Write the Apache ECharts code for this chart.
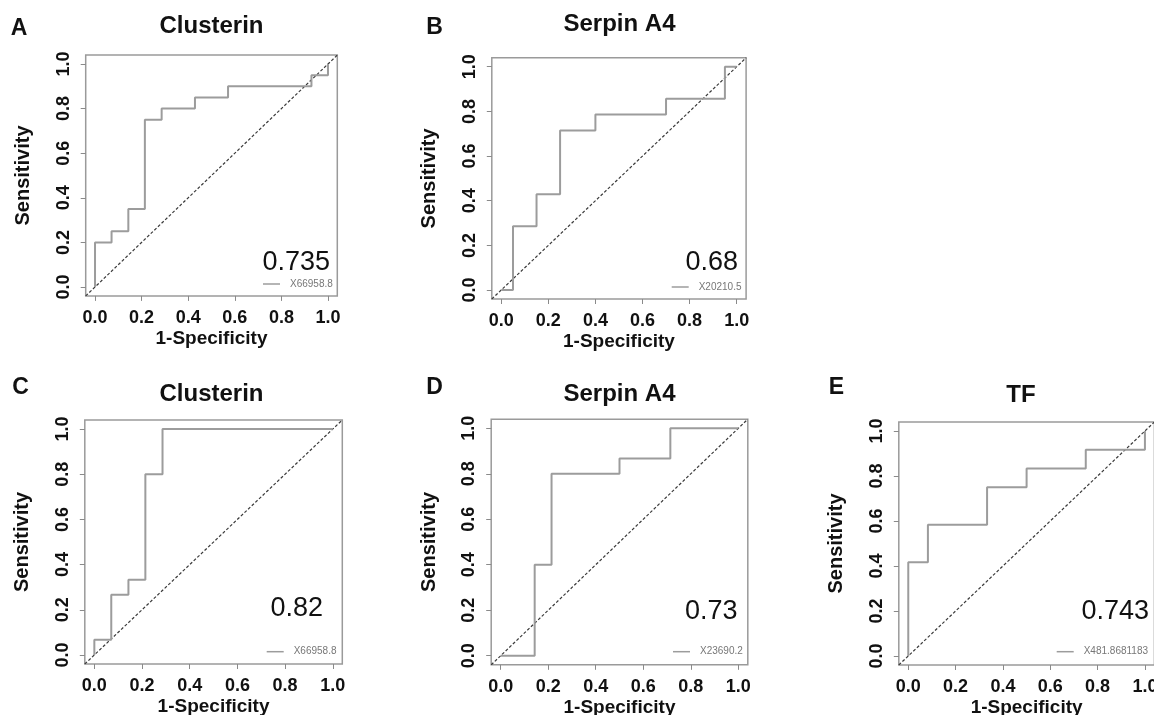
<!DOCTYPE html>
<html>
<head>
<meta charset="utf-8">
<title>ROC curves</title>
<script src="https://cdn.jsdelivr.net/npm/echarts@6/dist/echarts.min.js"></script>
<style>
  html, body { margin: 0; padding: 0; background: #fff; }
  #main { width: 1154px; height: 715px; }
</style>
</head>
<body>
<div id="main"></div>
<script>
// ROC step corners (x = 1-specificity, y = sensitivity)
var fprA = [0, 0, 0.071, 0.071, 0.143, 0.143, 0.214, 0.214, 0.286, 0.286, 0.429, 0.429, 0.571, 0.571, 0.929, 0.929, 1, 1];
var tprA = [0, 0.2, 0.2, 0.25, 0.25, 0.35, 0.35, 0.75, 0.75, 0.8, 0.8, 0.85, 0.85, 0.9, 0.9, 0.95, 0.95, 1];

var fprB = [0, 0.05, 0.05, 0.15, 0.15, 0.25, 0.25, 0.4, 0.4, 0.7, 0.7, 0.95, 0.95, 1];
var tprB = [0, 0, 0.286, 0.286, 0.429, 0.429, 0.714, 0.714, 0.786, 0.786, 0.857, 0.857, 1, 1];

var fprC = [0, 0, 0.071, 0.071, 0.143, 0.143, 0.214, 0.214, 0.286, 0.286, 1];
var tprC = [0, 0.067, 0.067, 0.267, 0.267, 0.333, 0.333, 0.8, 0.8, 1, 1];

var fprD = [0, 0.143, 0.143, 0.214, 0.214, 0.5, 0.5, 0.714, 0.714, 1];
var tprD = [0, 0, 0.4, 0.4, 0.8, 0.8, 0.867, 0.867, 1, 1];

var fprE = [0, 0, 0.083, 0.083, 0.333, 0.333, 0.5, 0.5, 0.75, 0.75, 1, 1];
var tprE = [0, 0.417, 0.417, 0.583, 0.583, 0.75, 0.75, 0.833, 0.833, 0.917, 0.917, 1];

var panelLetters = ['A', 'B', 'C', 'D', 'E'];
var panelTitles = ['Clusterin', 'Serpin A4', 'Clusterin', 'Serpin A4', 'TF'];
var aucLabels = ['0.735', '0.68', '0.82', '0.73', '0.743'];
var cutoffNames = ['X66958.8', 'X20210.5', 'X66958.8', 'X23690.2', 'X481.8681183'];
var tickValues = [0, 0.2, 0.4, 0.6, 0.8, 1.0];

var curves = [[fprA, tprA], [fprB, tprB], [fprC, tprC], [fprD, tprD], [fprE, tprE]];

// R style plot region: 4% padding round 0..1
var AXIS_MIN = -0.04, AXIS_MAX = 1.04;
var FONT = '"Liberation Sans", Arial, Helvetica, sans-serif';

// pixel layout of each panel
var panels = [
    { grid: { left: 85.7, top: 55.1, width: 251.6, height: 240.8 }, letter: [19, 28.5], title: [211.5, 26], auc: [330, 263], legend: [263, 285] },
    { grid: { left: 491.8, top: 57.8, width: 254.3, height: 241.2 }, letter: [434.5, 27.5], title: [619.5, 24], auc: [738, 263], legend: [671.7, 288] },
    { grid: { left: 84.8, top: 420, width: 257.5, height: 244 }, letter: [20.5, 387.5], title: [211.5, 394], auc: [323, 609], legend: [266.7, 652.7] },
    { grid: { left: 491.2, top: 419.2, width: 256.6, height: 245.6 }, letter: [434.5, 387.5], title: [619.5, 394], auc: [737.5, 612], legend: [673, 652.7] },
    { grid: { left: 898.8, top: 422, width: 255.6, height: 243 }, letter: [836.5, 387.5], title: [1021, 395.5], auc: [1149, 611.7], legend: [1056.7, 652.7] }
];

var chart = echarts.init(document.getElementById('main'));

var grids = [], xAxes = [], yAxes = [], series = [], legends = [], graphics = [];

function fmt(v) { return v.toFixed(1); }

panels.forEach(function (p, i) {
    grids.push({
        left: p.grid.left, top: p.grid.top, width: p.grid.width, height: p.grid.height,
        show: true, borderColor: '#9a9a9a', borderWidth: 1.5, backgroundColor: 'transparent',
        containLabel: false, outerBoundsMode: 'none'
    });
    xAxes.push({
        type: 'value', gridIndex: i, min: AXIS_MIN, max: AXIS_MAX,
        name: '1-Specificity', nameLocation: 'middle', nameGap: 33, nameMoveOverlap: false,
        nameTextStyle: { fontFamily: FONT, fontWeight: 'bold', fontSize: 19, color: '#111' },
        axisLine: { show: false, onZero: false },
        splitLine: { show: false },
        axisTick: { show: true, inside: false, length: 5, customValues: tickValues, lineStyle: { color: '#8a8a8a', width: 1 } },
        axisLabel: { customValues: tickValues, formatter: fmt, margin: 13, fontFamily: FONT, fontWeight: 'bold', fontSize: 18, color: '#111' }
    });
    yAxes.push({
        type: 'value', gridIndex: i, min: AXIS_MIN, max: AXIS_MAX,
        name: 'Sensitivity', nameLocation: 'middle', nameGap: 52, nameMoveOverlap: false,
        nameTextStyle: { fontFamily: FONT, fontWeight: 'bold', fontSize: 20, color: '#111' },
        axisLine: { show: false, onZero: false },
        splitLine: { show: false },
        axisTick: { show: true, inside: false, length: 5, customValues: tickValues, lineStyle: { color: '#8a8a8a', width: 1 } },
        axisLabel: { customValues: tickValues, formatter: fmt, rotate: 90, margin: 13, fontFamily: FONT, fontWeight: 'bold', fontSize: 18, color: '#111' }
    });

    var fpr = curves[i][0], tpr = curves[i][1];
    series.push({
        name: cutoffNames[i], type: 'line', xAxisIndex: i, yAxisIndex: i,
        data: fpr.map(function (x, k) { return [x, tpr[k]]; }),
        symbol: 'none', silent: true,
        lineStyle: { color: '#9c9c9c', width: 2 },
        itemStyle: { color: '#9c9c9c' },
        z: 3
    });
    // chance diagonal across the whole plot region
    series.push({
        name: 'chance' + i, type: 'line', xAxisIndex: i, yAxisIndex: i,
        data: [[AXIS_MIN, AXIS_MIN], [AXIS_MAX, AXIS_MAX]],
        symbol: 'none', silent: true,
        lineStyle: { color: '#3a3a3a', width: 1.2, type: [3, 2] },
        z: 2
    });

    legends.push({
        data: [cutoffNames[i]], left: p.legend[0], top: p.legend[1] - 6,
        padding: 0, icon: 'rect', itemWidth: 17, itemHeight: 1.5, selectedMode: false,
        textStyle: { fontFamily: FONT, fontSize: 10, color: '#777', padding: [0, 0, 0, 5] }
    });

    graphics.push({
        type: 'text', x: p.letter[0], y: p.letter[1],
        style: { text: panelLetters[i], fill: '#111', font: 'bold 23px ' + FONT,
            align: 'center', verticalAlign: 'middle', textAlign: 'center', textVerticalAlign: 'middle' }
    });
    graphics.push({
        type: 'text', x: p.title[0], y: p.title[1],
        style: { text: panelTitles[i], fill: '#111', font: 'bold 24px ' + FONT,
            align: 'center', verticalAlign: 'middle', textAlign: 'center', textVerticalAlign: 'middle' }
    });
    graphics.push({
        type: 'text', x: p.auc[0], y: p.auc[1],
        style: { text: aucLabels[i], fill: '#111', font: '27px ' + FONT,
            align: 'right', verticalAlign: 'middle', textAlign: 'right', textVerticalAlign: 'middle' }
    });
});

var option = {
    animation: false,
    backgroundColor: '#fff',
    grid: grids,
    xAxis: xAxes,
    yAxis: yAxes,
    legend: legends,
    series: series,
    graphic: graphics
};
option && chart.setOption(option);
</script>
</body>
</html>
